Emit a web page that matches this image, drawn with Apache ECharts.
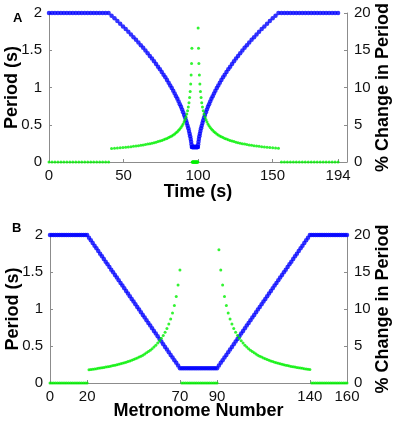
<!DOCTYPE html>
<html>
<head>
<meta charset="utf-8">
<script src="https://cdn.jsdelivr.net/npm/echarts@6/dist/echarts.min.js"></script>
<style>
  html, body { margin: 0; padding: 0; background: #fff; }
  #chart { width: 397px; height: 423px; }
</style>
</head>
<body>
<div id="chart"></div>
<script>
// period of each metronome (s), metronome number = index 0..160
const period = [
  2, 2, 2, 2, 2, 2, 2, 2, 2, 2, 2, 2, 2, 2, 2, 2, 2, 2, 2, 2, 2,
  1.964, 1.928, 1.892, 1.856, 1.82, 1.784, 1.748, 1.712, 1.676, 1.64,
  1.604, 1.568, 1.532, 1.496, 1.46, 1.424, 1.388, 1.352, 1.316, 1.28,
  1.244, 1.208, 1.172, 1.136, 1.1, 1.064, 1.028, 0.992, 0.956, 0.92,
  0.884, 0.848, 0.812, 0.776, 0.74, 0.704, 0.668, 0.632, 0.596, 0.56,
  0.524, 0.488, 0.452, 0.416, 0.38, 0.344, 0.308, 0.272, 0.236, 0.2,
  0.2, 0.2, 0.2, 0.2, 0.2, 0.2, 0.2, 0.2, 0.2, 0.2,
  0.2, 0.2, 0.2, 0.2, 0.2, 0.2, 0.2, 0.2, 0.2, 0.2,
  0.236, 0.272, 0.308, 0.344, 0.38, 0.416, 0.452, 0.488, 0.524, 0.56,
  0.596, 0.632, 0.668, 0.704, 0.74, 0.776, 0.812, 0.848, 0.884, 0.92,
  0.956, 0.992, 1.028, 1.064, 1.1, 1.136, 1.172, 1.208, 1.244, 1.28,
  1.316, 1.352, 1.388, 1.424, 1.46, 1.496, 1.532, 1.568, 1.604, 1.64,
  1.676, 1.712, 1.748, 1.784, 1.82, 1.856, 1.892, 1.928, 1.964, 2,
  2, 2, 2, 2, 2, 2, 2, 2, 2, 2, 2, 2, 2, 2, 2, 2, 2, 2, 2, 2
];

// % change in period for each metronome
const pctChange = [
  0, 0, 0, 0, 0, 0, 0, 0, 0, 0, 0, 0, 0, 0, 0, 0, 0, 0, 0, 0, 0,
  1.8, 1.833, 1.867, 1.903, 1.94, 1.978, 2.018, 2.059, 2.103, 2.148,
  2.195, 2.244, 2.296, 2.35, 2.406, 2.466, 2.528, 2.594, 2.663, 2.736,
  2.813, 2.894, 2.98, 3.072, 3.169, 3.273, 3.383, 3.502, 3.629, 3.766,
  3.913, 4.072, 4.245, 4.433, 4.639, 4.865, 5.114, 5.389, 5.696, 6.04,
  6.429, 6.87, 7.377, 7.965, 8.654, 9.474, 10.465, 11.688, 13.235, 15.254,
  0, 0, 0, 0, 0, 0, 0, 0, 0, 0, 0, 0, 0, 0, 0, 0, 0, 0, 0, 0,
  18, 15.254, 13.235, 11.688, 10.465, 9.474, 8.654, 7.965, 7.377, 6.87,
  6.429, 6.04, 5.696, 5.389, 5.114, 4.865, 4.639, 4.433, 4.245, 4.072,
  3.913, 3.766, 3.629, 3.502, 3.383, 3.273, 3.169, 3.072, 2.98, 2.894,
  2.813, 2.736, 2.663, 2.594, 2.528, 2.466, 2.406, 2.35, 2.296, 2.244,
  2.195, 2.148, 2.103, 2.059, 2.018, 1.978, 1.94, 1.903, 1.867, 1.833,
  0, 0, 0, 0, 0, 0, 0, 0, 0, 0, 0, 0, 0, 0, 0, 0, 0, 0, 0, 0
];

// time (s) at which each metronome plays
const time = [
  0, 2, 4, 6, 8, 10, 12, 14, 16, 18, 20, 22, 24, 26, 28, 30, 32, 34, 36, 38, 40,
  42, 43.964, 45.892, 47.784, 49.64, 51.46, 53.244, 54.992, 56.704, 58.38,
  60.02, 61.624, 63.192, 64.724, 66.22, 67.68, 69.104, 70.492, 71.844, 73.16,
  74.44, 75.684, 76.892, 78.064, 79.2, 80.3, 81.364, 82.392, 83.384, 84.34,
  85.26, 86.144, 86.992, 87.804, 88.58, 89.32, 90.024, 90.692, 91.324, 91.92,
  92.48, 93.004, 93.492, 93.944, 94.36, 94.74, 95.084, 95.392, 95.664, 95.9,
  96.1, 96.3, 96.5, 96.7, 96.9, 97.1, 97.3, 97.5, 97.7, 97.9,
  98.1, 98.3, 98.5, 98.7, 98.9, 99.1, 99.3, 99.5, 99.7, 99.9,
  100.1, 100.336, 100.608, 100.916, 101.26, 101.64, 102.056, 102.508, 102.996, 103.52,
  104.08, 104.676, 105.308, 105.976, 106.68, 107.42, 108.196, 109.008, 109.856, 110.74,
  111.66, 112.616, 113.608, 114.636, 115.7, 116.8, 117.936, 119.108, 120.316, 121.56,
  122.84, 124.156, 125.508, 126.896, 128.32, 129.78, 131.276, 132.808, 134.376, 135.98,
  137.62, 139.296, 141.008, 142.756, 144.54, 146.36, 148.216, 150.108, 152.036, 154,
  156, 158, 160, 162, 164, 166, 168, 170, 172, 174,
  176, 178, 180, 182, 184, 186, 188, 190, 192, 194
];

// tick labels
const timeTicks = [0, 50, 100, 150, 194];
const numberTicks = [0, 20, 70, 90, 140, 160];
const periodTicks = [0, 0.5, 1, 1.5, 2];
const pctTicks = [0, 5, 10, 15, 20];

const blue = '#0000ff';
const green = '#00f000';
const axisGray = '#8c8c8c';
const font = 'Liberation Sans, Arial, sans-serif';

const chart = echarts.init(document.getElementById('chart'), null, { renderer: 'canvas' });

const xAxisBase = (grid, max, ticks, name, gap) => ({
  type: 'value',
  gridIndex: grid,
  min: 0,
  max: max,
  name: name,
  nameLocation: 'middle',
  nameGap: gap,
  nameMoveOverlap: false,
  nameTextStyle: { fontFamily: font, fontWeight: 'bold', fontSize: 18, color: '#000' },
  axisLine: { show: true, onZero: false, lineStyle: { color: axisGray, width: 1 } },
  axisTick: { show: true, inside: true, length: 3, customValues: ticks, lineStyle: { color: axisGray } },
  axisLabel: { customValues: ticks, fontFamily: font, fontSize: 15, color: '#111', margin: 6 },
  splitLine: { show: false }
});

const yAxisBase = (grid, pos, max, interval, name, gap) => ({
  type: 'value',
  gridIndex: grid,
  position: pos,
  min: 0,
  max: max,
  interval: interval,
  name: name,
  nameLocation: 'middle',
  nameRotate: 90,
  nameGap: gap,
  nameMoveOverlap: false,
  nameTextStyle: { fontFamily: font, fontWeight: 'bold', fontSize: 18, color: '#000' },
  axisLine: { show: true, onZero: false, lineStyle: { color: axisGray, width: 1 } },
  axisTick: { show: true, inside: true, length: 3, lineStyle: { color: axisGray } },
  axisLabel: {
    fontFamily: font, fontSize: 15, color: '#111', margin: 7,
    formatter: (v) => String(v)
  },
  splitLine: { show: false }
});

const option = {
  animation: false,
  backgroundColor: '#fff',
  title: [
    { text: 'A', left: 8, top: 7, textStyle: { fontFamily: font, fontWeight: 'bold', fontSize: 13, color: '#000' } },
    { text: 'B', left: 7, top: 217, textStyle: { fontFamily: font, fontWeight: 'bold', fontSize: 13, color: '#000' } }
  ],
  grid: [
    { left: 49, top: 13, width: 298, height: 149, containLabel: false, outerBoundsMode: 'none' },
    { left: 50, top: 235, width: 297, height: 148, containLabel: false, outerBoundsMode: 'none' }
  ],
  xAxis: [
    xAxisBase(0, 200, timeTicks, 'Time (s)', 21),
    xAxisBase(1, 160, numberTicks, 'Metronome Number', 19)
  ],
  yAxis: [
    yAxisBase(0, 'left', 2, 0.5, 'Period (s)', 28),
    yAxisBase(0, 'right', 20, 5, '% Change in Period', 27),
    yAxisBase(1, 'left', 2, 0.5, 'Period (s)', 28),
    yAxisBase(1, 'right', 20, 5, '% Change in Period', 27)
  ],
  series: [
    {
      type: 'scatter', xAxisIndex: 0, yAxisIndex: 0,
      symbolSize: 4.5, itemStyle: { color: blue },
      data: period.map((p, i) => [time[i], p])
    },
    {
      type: 'scatter', xAxisIndex: 0, yAxisIndex: 1,
      symbolSize: 3, itemStyle: { color: green },
      data: pctChange.map((c, i) => [time[i], c])
    },
    {
      type: 'scatter', xAxisIndex: 1, yAxisIndex: 2,
      symbolSize: 4.5, itemStyle: { color: blue },
      data: period.map((p, i) => [i, p])
    },
    {
      type: 'scatter', xAxisIndex: 1, yAxisIndex: 3,
      symbolSize: 3, itemStyle: { color: green },
      data: pctChange.map((c, i) => [i, c])
    }
  ]
};

chart.setOption(option);
</script>
</body>
</html>
